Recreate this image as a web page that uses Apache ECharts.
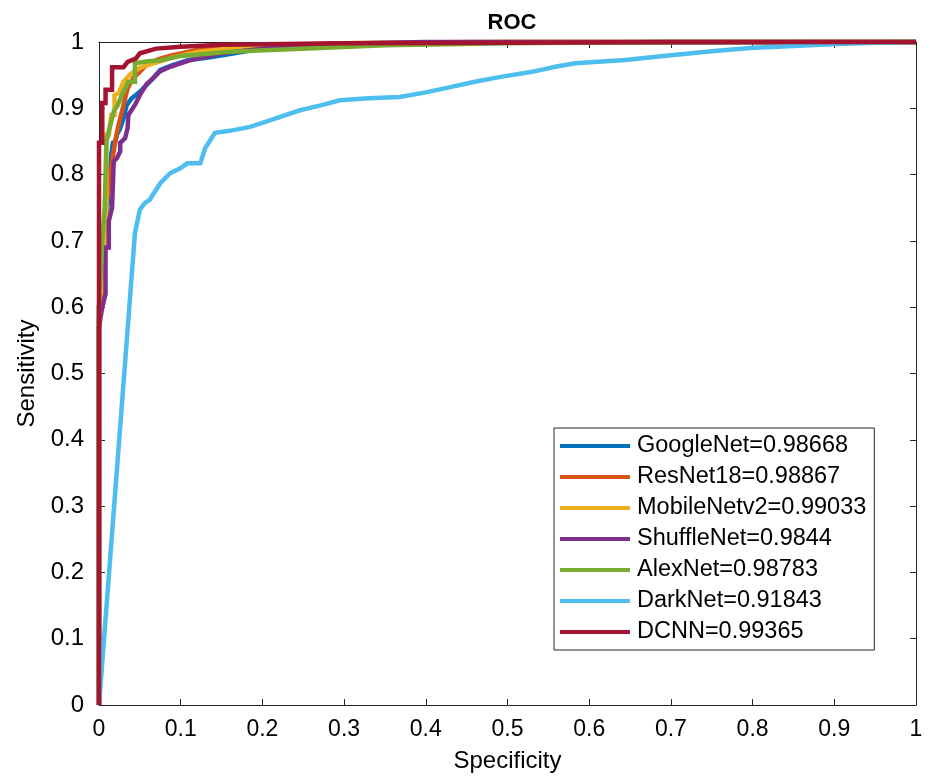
<!DOCTYPE html>
<html>
<head>
<meta charset="utf-8">
<script src="https://cdn.jsdelivr.net/npm/echarts@6/dist/echarts.min.js"></script>
<style>
html,body{margin:0;padding:0;background:#fff;}
#chart{width:930px;height:779px;}
</style>
</head>
<body>
<div id="chart"></div>
<script>
const titleText = 'ROC';
const xAxisName = 'Specificity';
const yAxisName = 'Sensitivity';
const tickLabels = ['0','0.1','0.2','0.3','0.4','0.5','0.6','0.7','0.8','0.9','1'];
const seriesNames = ['GoogleNet=0.98668','ResNet18=0.98867','MobileNetv2=0.99033','ShuffleNet=0.9844','AlexNet=0.98783','DarkNet=0.91843','DCNN=0.99365'];
const seriesColors = ['#0072BD','#D95319','#EDB120','#7E2F8E','#77AC30','#4DBEEE','#A2142F'];

const googleNet = [[0,0],[0,0.6],[0.004,0.65],[0.008,0.72],[0.011,0.76],[0.013,0.8],[0.015,0.83],[0.017,0.848],[0.02,0.85],[0.022,0.86],[0.026,0.87],[0.03,0.885],[0.034,0.905],[0.04,0.915],[0.05,0.925],[0.066,0.945],[0.075,0.958],[0.09,0.965],[0.11,0.973],[0.136,0.977],[0.16,0.982],[0.2,0.99],[0.3,0.996],[0.5,0.999],[1,1]];
const resNet18 = [[0,0],[0,0.58],[0.003,0.62],[0.006,0.7],[0.008,0.75],[0.012,0.78],[0.016,0.82],[0.02,0.85],[0.023,0.87],[0.026,0.885],[0.03,0.905],[0.035,0.93],[0.042,0.946],[0.05,0.955],[0.06,0.968],[0.075,0.975],[0.09,0.98],[0.12,0.988],[0.2,0.995],[0.3,0.998],[0.5,1],[1,1]];
const mobileNetv2 = [[0,0],[0,0.6],[0.004,0.64],[0.007,0.7],[0.009,0.72],[0.009,0.86],[0.012,0.86],[0.015,0.89],[0.019,0.89],[0.019,0.92],[0.024,0.923],[0.03,0.94],[0.038,0.951],[0.05,0.961],[0.062,0.966],[0.073,0.97],[0.088,0.976],[0.12,0.985],[0.18,0.993],[0.3,0.998],[0.45,1],[1,1]];
const shuffleNet = [[0,0],[0,0.57],[0.004,0.6],[0.008,0.62],[0.008,0.69],[0.012,0.69],[0.012,0.73],[0.016,0.75],[0.018,0.82],[0.022,0.825],[0.026,0.835],[0.026,0.848],[0.032,0.855],[0.035,0.87],[0.036,0.89],[0.044,0.905],[0.05,0.92],[0.058,0.936],[0.066,0.945],[0.075,0.956],[0.088,0.963],[0.11,0.972],[0.15,0.983],[0.2,0.99],[0.28,0.997],[0.4,1],[1,1]];
const alexNet = [[0,0],[0,0.6],[0.004,0.7],[0.007,0.75],[0.008,0.8],[0.009,0.848],[0.012,0.866],[0.015,0.88],[0.018,0.895],[0.023,0.905],[0.028,0.92],[0.036,0.94],[0.044,0.94],[0.044,0.968],[0.06,0.971],[0.075,0.972],[0.1,0.979],[0.13,0.982],[0.155,0.985],[0.196,0.987],[0.27,0.991],[0.35,0.995],[0.5,0.998],[0.7,1],[1,1]];
const darkNet = [[0,0],[0.044,0.712],[0.05,0.747],[0.056,0.757],[0.062,0.762],[0.075,0.787],[0.087,0.802],[0.1,0.81],[0.108,0.817],[0.124,0.817],[0.13,0.84],[0.142,0.863],[0.16,0.866],[0.185,0.872],[0.21,0.882],[0.246,0.897],[0.27,0.904],[0.295,0.912],[0.33,0.915],[0.368,0.917],[0.4,0.924],[0.43,0.932],[0.46,0.94],[0.49,0.947],[0.53,0.955],[0.56,0.963],[0.583,0.968],[0.644,0.973],[0.7,0.98],[0.75,0.986],[0.797,0.991],[0.85,0.994],[0.903,0.997],[0.95,0.999],[1,1]];
const dcnn = [[0,0],[0,0.848],[0.004,0.848],[0.004,0.908],[0.008,0.908],[0.008,0.928],[0.016,0.928],[0.016,0.962],[0.03,0.962],[0.035,0.97],[0.045,0.975],[0.05,0.983],[0.07,0.99],[0.1,0.993],[0.15,0.996],[0.3,0.998],[0.5,0.999],[0.7,1],[1,1]];

const seriesData = [googleNet,resNet18,mobileNetv2,shuffleNet,alexNet,darkNet,dcnn];

const FONT = '"Liberation Sans", Arial, Helvetica, sans-serif';
const AXC = '#262626';
const fmt = v => tickLabels[Math.round(v*10)] ?? '';

const chart = echarts.init(document.getElementById('chart'), null, {renderer:'canvas'});
const baseAxis = {
  type:'value', min:0, max:1, interval:0.1,
  axisLine:{show:true, onZero:false, lineStyle:{color:AXC, width:1}},
  axisTick:{show:true, inside:true, length:6, lineStyle:{color:AXC}},
  splitLine:{show:false}
};
chart.setOption({
  animation:false,
  backgroundColor:'#fff',
  title:{text:titleText, left:507, textAlign:'center', top:7,
    textStyle:{fontFamily:FONT, fontSize:22, fontWeight:'bold', color:'#000'}},
  grid:{left:99, right:14, top:42, bottom:74, containLabel:false},
  legend:{
    orient:'vertical', left:554, top:428,
    data:seriesNames,
    icon:'rect', itemWidth:70, itemHeight:4, itemGap:7,
    padding:[6,8,6,6],
    borderColor:AXC, borderWidth:1, backgroundColor:'#fff',
    textStyle:{fontFamily:FONT, fontSize:23.5, color:'#000', padding:[0,0,0,2]}
  },
  xAxis:[
    Object.assign({}, baseAxis, {position:'bottom', name:xAxisName, nameLocation:'middle', nameGap:44,
      nameTextStyle:{fontFamily:FONT, fontSize:24, color:'#000'},
      axisLabel:{formatter:fmt, margin:13, fontFamily:FONT, fontSize:23, color:'#000'}}),
    Object.assign({}, baseAxis, {position:'top', axisLabel:{show:false}})
  ],
  yAxis:[
    Object.assign({}, baseAxis, {position:'left', name:yAxisName, nameLocation:'middle', nameGap:57,
      nameTextStyle:{fontFamily:FONT, fontSize:24, color:'#000'},
      axisLabel:{formatter:fmt, margin:15, fontFamily:FONT, fontSize:24, color:'#000'}}),
    Object.assign({}, baseAxis, {position:'right', axisLabel:{show:false}})
  ],
  series: seriesNames.map((n,i)=>({
    name:n, type:'line', data:seriesData[i], showSymbol:false, symbol:'none',
    clip:false, color:seriesColors[i],
    lineStyle:{color:seriesColors[i], width:4.5, join:'miter'},
    emphasis:{disabled:true}
  }))
});
</script>
</body>
</html>
